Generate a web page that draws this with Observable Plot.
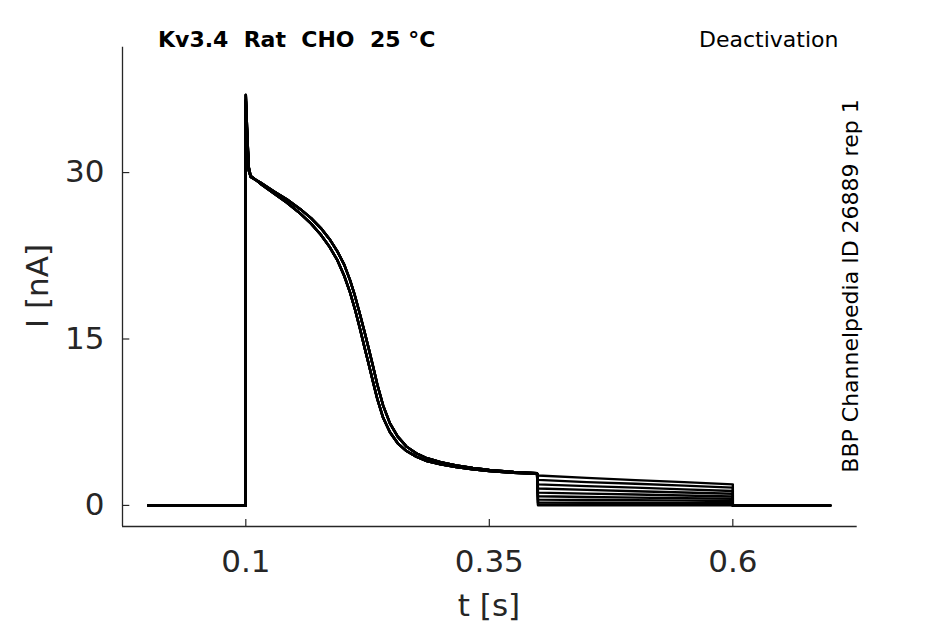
<!DOCTYPE html>
<html>
<head>
<meta charset="utf-8">
<script src="https://cdn.jsdelivr.net/npm/d3@7"></script>
<script src="https://cdn.jsdelivr.net/npm/@observablehq/plot@0.6"></script>
<style>
  html, body { margin: 0; padding: 0; background: white; }
  #chart svg { display: block; }
</style>
</head>
<body>
<div id="chart"></div>
<script>
// ---- data ----
const xTicks = [0.1, 0.35, 0.6];
const yTicks = [0, 15, 30];
const xDomain = [-0.0266, 0.7277];
const yDomain = [-1.9, 41.3];

// shared time base of the activation + decay part (s)
const tMain = [0, 0.0999, 0.1, 0.1015, 0.103, 0.105, 0.115, 0.129, 0.142, 0.156,
  0.167, 0.177, 0.186, 0.194, 0.201, 0.207, 0.212, 0.217, 0.222, 0.226,
  0.231, 0.235, 0.241, 0.248, 0.256, 0.265, 0.275, 0.286, 0.3, 0.316,
  0.333, 0.35, 0.375, 0.399];
// two slightly different waveforms seen in the band of traces (nA)
const waveA = [0, 0, 37, 33.5, 30.5, 29.7, 29.0, 28.1, 27.3, 26.3,
  25.4, 24.4, 23.3, 22.1, 20.7, 19.2, 17.7, 16.0, 14.2, 12.8,
  11.0, 9.6, 7.9, 6.6, 5.6, 4.9, 4.4, 4.0, 3.7, 3.45,
  3.25, 3.1, 2.95, 2.85];
const waveB = [0, 0, 36.5, 33.0, 30.2, 29.6, 29.1, 28.3, 27.6, 26.7,
  25.9, 25.0, 24.0, 22.9, 21.7, 20.3, 18.9, 17.3, 15.6, 14.2,
  12.4, 10.9, 9.0, 7.4, 6.2, 5.3, 4.7, 4.25, 3.9, 3.6,
  3.38, 3.2, 3.02, 2.9];

// deactivation tail levels per trace (nA) at the tail times
const tTail = [0.4, 0.45, 0.5, 0.55, 0.6];
const tailLevels = [
  [2.7, 2.48, 2.28, 2.1, 1.9],
  [2.3, 2.1, 1.95, 1.78, 1.6],
  [1.9, 1.74, 1.6, 1.45, 1.3],
  [1.52, 1.4, 1.28, 1.16, 1.05],
  [1.15, 1.06, 0.98, 0.89, 0.8],
  [0.82, 0.76, 0.7, 0.65, 0.6],
  [0.52, 0.49, 0.46, 0.43, 0.4],
  [0.25, 0.24, 0.22, 0.21, 0.2],
  [0.08, 0.075, 0.07, 0.065, 0.06],
  [0.0, 0.0, 0.0, 0.0, 0.0]
];
const traceWave = ["B", "A", "B", "A", "B", "A", "B", "A", "B", "A"];
const tEnd = [0.6, 0.7];
const endLevel = [0, 0];

// ---- build table for the library ----
const rows = [];
tailLevels.forEach((tail, k) => {
  const w = traceWave[k] === "A" ? waveA : waveB;
  tMain.forEach((t, j) => rows.push({trace: k, t, i: w[j]}));
  tTail.forEach((t, j) => rows.push({trace: k, t, i: tail[j]}));
  tEnd.forEach((t, j) => rows.push({trace: k, t, i: endLevel[j]}));
});

const axisColor = "#262626";
const chart = Plot.plot({
  width: 945,
  height: 624,
  marginLeft: 122,
  marginRight: 88.3,
  marginTop: 46.7,
  marginBottom: 98,
  x: {domain: xDomain},
  y: {domain: yDomain},
  style: {fontFamily: "DejaVu Sans", background: "white", color: axisColor},
  marks: [
    Plot.axisX({ticks: xTicks, tickSize: 0, tickPadding: 23, fontSize: 31, label: null, tickFormat: d => String(d)}),
    Plot.axisY({ticks: yTicks, tickSize: 0, tickPadding: 18, fontSize: 31, label: null}),
    Plot.ruleX(xTicks, {y1: yDomain[0], y2: yDomain[0] + 0.63, stroke: axisColor, strokeWidth: 1.2}),
    Plot.ruleY(yTicks, {x1: xDomain[0], x2: xDomain[0] + 0.0075, stroke: axisColor, strokeWidth: 1.2}),
    Plot.ruleX([xDomain[0]], {stroke: axisColor, strokeWidth: 1.3}),
    Plot.ruleY([yDomain[0]], {stroke: axisColor, strokeWidth: 1.3}),
    Plot.line(rows, {x: "t", y: "i", z: "trace", stroke: "black", strokeWidth: 2.4})
  ]
});
document.getElementById("chart").appendChild(chart);

// ---- texts ----
const svg = d3.select(chart);
const font = "DejaVu Sans";
svg.append("text").attr("x", 158).attr("y", 46.7).attr("text-anchor", "start")
  .attr("font-family", font).attr("font-size", 22).attr("font-weight", "bold")
  .attr("fill", "black").style("white-space", "pre").attr("xml:space", "preserve")
  .text("Kv3.4  Rat  CHO  25 °C");
svg.append("text").attr("x", 838.5).attr("y", 46.7).attr("text-anchor", "end")
  .attr("font-family", font).attr("font-size", 22).attr("fill", "black")
  .text("Deactivation");
svg.append("text").attr("transform", "translate(858,286) rotate(-90)").attr("text-anchor", "middle")
  .attr("font-family", font).attr("font-size", 22).attr("fill", "black")
  .text("BBP Channelpedia ID 26889 rep 1");
svg.append("text").attr("x", 489).attr("y", 616).attr("text-anchor", "middle")
  .attr("font-family", font).attr("font-size", 31).attr("fill", axisColor)
  .text("t [s]");
svg.append("text").attr("transform", "translate(48,286) rotate(-90)").attr("text-anchor", "middle")
  .attr("font-family", font).attr("font-size", 31).attr("fill", axisColor)
  .text("I [nA]");
</script>
</body>
</html>
